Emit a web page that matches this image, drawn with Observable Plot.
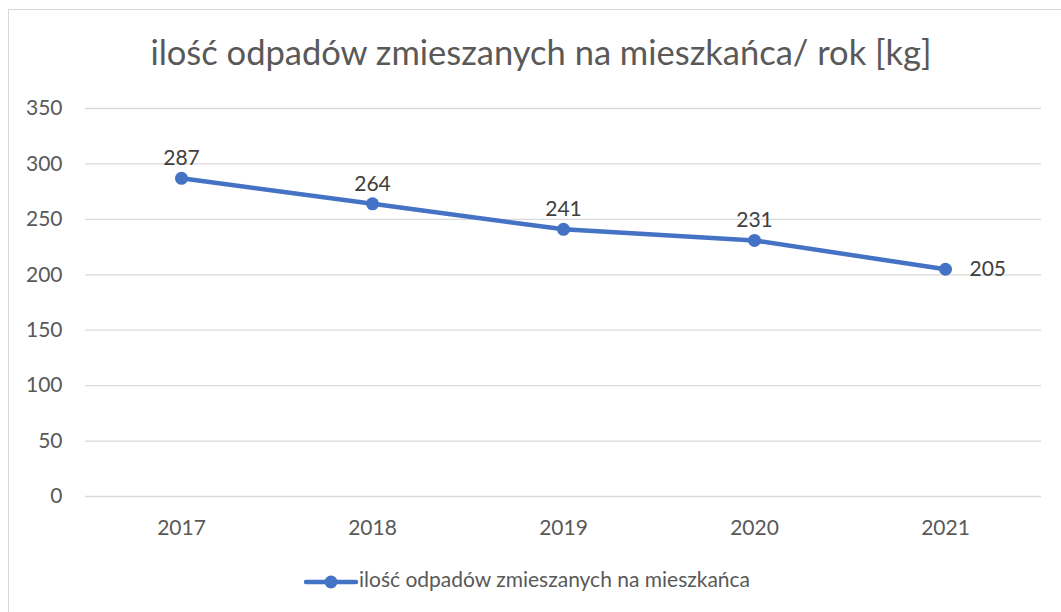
<!DOCTYPE html>
<html>
<head>
<meta charset="utf-8">
<script src="https://cdn.jsdelivr.net/npm/d3@7"></script>
<script src="https://cdn.jsdelivr.net/npm/@observablehq/plot@0.6"></script>
<style>
  html, body { margin: 0; padding: 0; width: 1061px; height: 612px; overflow: hidden; background: #fff; font-family: Lato, "Open Sans", sans-serif; }
  #frame { position: absolute; left: 8px; top: 9px; width: 1120px; height: 720px; border: 1px solid #d9d9d9; }
  #title { position: absolute; left: 0; width: 1082px; top: 31px; text-align: center; font-size: 34.5px; line-height: normal; color: #595959; white-space: nowrap; }
  #chart { position: absolute; left: 0; top: 90px; }
  #legend { position: absolute; left: 304px; top: 566px; height: 30px; }
  #legend svg { position: absolute; left: 0; top: 1px; }
  #legend span { position: absolute; left: 55px; top: 0; font-size: 21px; line-height: normal; color: #595959; white-space: nowrap; }
</style>
</head>
<body>
<div id="frame"></div>
<div id="title">ilość odpadów zmieszanych na mieszkańca/ rok [kg]</div>
<div id="chart"></div>
<div id="legend">
  <svg width="56" height="30"><line x1="2" y1="15" x2="52" y2="15" stroke="#4472C4" stroke-width="4.5" stroke-linecap="round"></line><circle cx="27" cy="15" r="6.5" fill="#4472C4"></circle></svg>
  <span>ilość odpadów zmieszanych na mieszkańca</span>
</div>
<script>
const years = ["2017", "2018", "2019", "2020", "2021"];
const values = [287, 264, 241, 231, 205];
const yTicks = [0, 50, 100, 150, 200, 250, 300, 350];

const data = years.map((year, i) => ({year, value: values[i]}));

const chart = Plot.plot({
  width: 1061,
  height: 460,
  marginLeft: 85,
  marginRight: 20,
  marginTop: 18,
  marginBottom: 54,
  style: {fontFamily: "Lato, 'Open Sans', sans-serif", fontSize: "21px", color: "#595959", background: "transparent", overflow: "visible"},
  x: {type: "point", domain: years, padding: 0.5, label: null, tickSize: 0, tickPadding: 24},
  y: {domain: [0, 350], ticks: yTicks, label: null, tickSize: 0, tickPadding: 23, tickFormat: d => String(d)},
  marks: [
    Plot.ruleY(yTicks, {stroke: "#d9d9d9", strokeWidth: 1.3}),
    Plot.line(data, {x: "year", y: "value", stroke: "#4472C4", strokeWidth: 4.5}),
    Plot.dot(data, {x: "year", y: "value", r: 6.5, fill: "#4472C4", stroke: null}),
    Plot.text(data.slice(0, -1), {x: "year", y: "value", text: d => String(d.value), dy: -20, fill: "#404040", fontSize: 21}),
    Plot.text(data.slice(-1), {x: "year", y: "value", text: d => String(d.value), dx: 24, textAnchor: "start", fill: "#404040", fontSize: 21})
  ]
});
document.getElementById("chart").appendChild(chart);
</script>
</body>
</html>
